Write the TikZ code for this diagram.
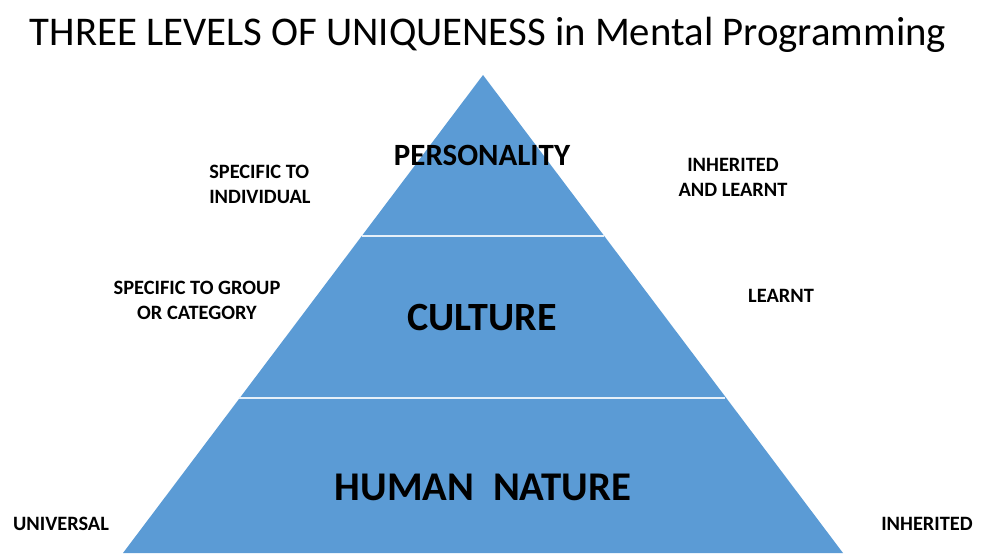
\documentclass[tikz,border=0pt]{standalone}
\usepackage{fontspec}
\setmainfont{Carlito}
\definecolor{pyrblue}{HTML}{5B9BD5}
\begin{document}
\begin{tikzpicture}[
  x=0.025cm, y=-0.025cm,
  level/.style={font=\bfseries, inner sep=0pt},
  side/.style={font=\fontsize{14.5}{17.8}\selectfont\bfseries, inner sep=0pt, align=center},
  divider/.style={draw=white!85!pyrblue, line width=1.2pt}
]
\useasboundingbox (0,0) rectangle (984,553);
% title
\node[inner sep=0pt, font=\fontsize{29}{34}\selectfont] (title) at (488,35) {THREE LEVELS OF UNIQUENESS in Mental Programming};
% pyramid
\fill[pyrblue] (483,75) -- (843,553) -- (123,553) -- cycle;
\draw[divider] (362,236) -- (604,236);
\draw[divider] (239,398) -- (725,398);
% levels
\node[level, font=\fontsize{22}{26}\selectfont\bfseries] (personality) at (482,155) {PERSONALITY};
\node[level, font=\fontsize{28.5}{34}\selectfont\bfseries] (culture) at (482,317) {CULTURE};
\node[level, font=\fontsize{29}{34}\selectfont\bfseries] (nature) at (483,487) {HUMAN\ \ NATURE};
% side labels
\node[side, align=left, anchor=west] (individual) at (209,184) {SPECIFIC TO\\INDIVIDUAL};
\node[side] (group) at (197,300) {SPECIFIC TO GROUP\\OR CATEGORY};
\node[side] (inhlearnt) at (733,177) {INHERITED\\AND LEARNT};
\node[side] (learnt) at (781,296) {LEARNT};
\node[side] (universal) at (61,524) {UNIVERSAL};
\node[side] (inherited) at (927,524) {INHERITED};
\end{tikzpicture}
\end{document}
